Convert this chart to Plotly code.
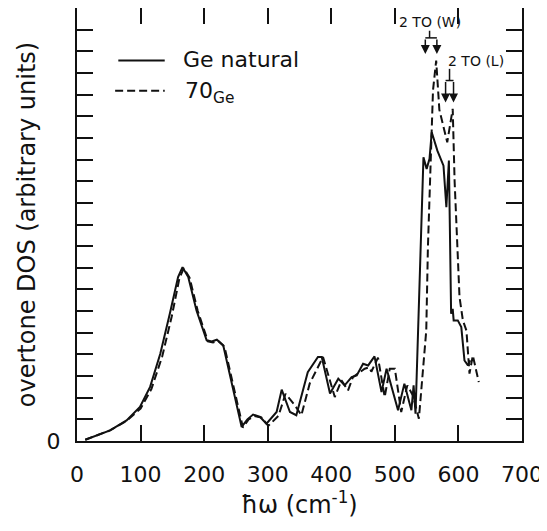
import plotly.graph_objects as go

# --- data ---
x_nat = [13, 30, 52, 78, 99, 115, 131, 146, 159, 166, 175, 188, 204, 212, 220, 230,
         259, 268, 277, 288, 298, 314, 322, 335, 345, 363, 379, 385, 398, 411,
         421, 432, 440, 450, 458, 468, 479, 487, 505, 515, 526, 529.5, 532.5,
         545, 550, 554.5, 558, 567, 576.5, 581, 585, 588.5, 591, 592.5, 599,
         604.5, 609.5, 615, 618.5]
y_nat = [0.06, 0.25, 0.49, 0.95, 1.57, 2.5, 4.03, 5.88, 7.57, 8.03, 7.57, 6.03, 4.65, 4.6, 4.68, 4.42,
         0.65, 1.0, 1.22, 1.11, 0.8, 1.34, 2.37, 1.34, 1.19, 3.18, 3.88, 3.88, 2.19, 2.88,
         2.57, 2.95, 3.03, 3.57, 3.49, 3.91, 2.26, 3.34, 1.42, 2.65, 1.42, 2.57, 1.26,
         13.1, 12.57, 13.03, 14.26, 13.4, 12.72, 10.8, 12.95, 5.88, 6.1, 5.57, 5.57,
         5.26, 3.72, 3.49, 3.72]

x_70 = [13, 30, 52, 78, 100, 117, 134, 149, 161, 168, 177, 190, 206, 214, 222, 232,
        261, 270, 279, 290, 301, 317, 328, 342.7, 353, 366, 387, 405.5, 416, 426.4,
        434, 452.6, 460, 463, 473.5, 484, 492, 500, 510, 519.6, 528.4, 537.8, 544,
        549.4, 552, 560, 565, 570, 582.4, 591, 594, 599, 601.7, 607, 612.6, 617.4,
        622.6, 632]
y_70 = [0.06, 0.25, 0.49, 0.93, 1.5, 2.4, 3.9, 5.75, 7.5, 7.98, 7.55, 6.0, 4.6, 4.55, 4.62, 4.35,
        0.62, 1.0, 1.15, 1.09, 0.7, 1.17, 2.18, 1.65, 1.19, 2.65, 3.88, 2.03, 2.8, 2.34,
        2.95, 3.34, 3.4, 3.2, 3.85, 2.03, 3.34, 3.34, 1.34, 2.57, 2.1, 1.03, 3.26,
        5.1, 8.95, 16.2, 17.57, 15.3, 13.8, 15.34, 12.0, 8.95, 6.65, 5.57, 5.1, 3.11,
        3.95, 2.72]

x_ticks = [0, 100, 200, 300, 400, 500, 600, 700]
y_ticks = list(range(0, 21))
y_ticktext = ["0"] + [""] * 20

series_names = ["Ge natural", "70<sub>Ge</sub>"]

FONT = "DejaVu Sans"
BLACK = "#111111"

fig = go.Figure()
fig.add_trace(go.Scatter(x=x_nat, y=y_nat, mode="lines", name=series_names[0],
                         line=dict(color=BLACK, width=2), showlegend=False))
fig.add_trace(go.Scatter(x=x_70, y=y_70, mode="lines", name=series_names[1],
                         line=dict(color=BLACK, width=2, dash="8px,4px"), showlegend=False))

shapes = []
annotations = []

# manual legend (line samples + labels)
shapes.append(dict(type="line", xref="x", yref="y", x0=65, x1=138, y0=17.57, y1=17.57,
                   line=dict(color=BLACK, width=2)))
shapes.append(dict(type="line", xref="x", yref="y", x0=60, x1=138, y0=16.18, y1=16.18,
                   line=dict(color=BLACK, width=2, dash="8px,4px")))
annotations.append(dict(x=164, y=17.6, xref="x", yref="y", text=series_names[0],
                        showarrow=False, xanchor="left", yanchor="middle",
                        font=dict(family=FONT, size=22, color=BLACK)))
annotations.append(dict(x=166, y=16.1, xref="x", yref="y", text=series_names[1],
                        showarrow=False, xanchor="left", yanchor="middle",
                        font=dict(family=FONT, size=22, color=BLACK)))

# peak labels with bracket arrows
annotations.append(dict(x=554.6, y=19.34, xref="x", yref="y", text="2 TO (W)",
                        showarrow=False, font=dict(family=FONT, size=14, color=BLACK)))
annotations.append(dict(x=628, y=17.53, xref="x", yref="y", text="2 TO (L)",
                        showarrow=False, font=dict(family=FONT, size=14, color=BLACK)))
for (sx, ys0, ys1, xa, xb, yb, yend) in [(554.6, 18.95, 18.62, 547.9, 566.1, 18.62, 17.88),
                                           (586.0, 17.19, 16.65, 579.8, 592.3, 16.65, 15.64)]:
    shapes.append(dict(type="line", xref="x", yref="y", x0=sx, x1=sx, y0=ys0, y1=ys1,
                       line=dict(color=BLACK, width=1.5)))
    shapes.append(dict(type="line", xref="x", yref="y", x0=xa, x1=xb, y0=yb, y1=yb,
                       line=dict(color=BLACK, width=1.5)))
    for xx in (xa, xb):
        annotations.append(dict(x=xx, y=yend, ax=xx, ay=yb, xref="x", yref="y",
                                axref="x", ayref="y", text="", showarrow=True,
                                arrowhead=2, arrowsize=1.2, arrowwidth=1.5,
                                arrowcolor=BLACK))

# figure sized to fit inside the page's default 8px body margin
fig.update_layout(
    width=539, height=515,
    margin=dict(l=69, r=25, t=0, b=82, autoexpand=False),
    paper_bgcolor="white", plot_bgcolor="white",
    font=dict(family=FONT, size=21, color=BLACK),
    shapes=shapes, annotations=annotations,
    showlegend=False,
)
fig.update_xaxes(range=[0, 700], tickvals=x_ticks, ticks="inside", ticklen=16,
                 tickwidth=2, tickcolor=BLACK, showline=True, linecolor=BLACK,
                 linewidth=2, mirror="ticks", showgrid=False, zeroline=False,
                 automargin=False, ticklabeloverflow="allow",
                 tickfont=dict(family=FONT, size=22, color=BLACK),
                 ticklabelstandoff=13,
                 title=dict(text="ħω (cm<sup>-1</sup>)", standoff=8,
                            font=dict(family=FONT, size=24, color=BLACK)))
fig.update_yaxes(range=[0, 20], tickvals=y_ticks, ticktext=y_ticktext, ticks="inside",
                 ticklen=16, tickwidth=2, tickcolor=BLACK, showline=True,
                 linecolor=BLACK, linewidth=2, mirror="ticks", showgrid=False,
                 zeroline=False, ticklabelstandoff=10, automargin=False,
                 tickfont=dict(family=FONT, size=22, color=BLACK),
                 title=dict(text="overtone DOS (arbitrary units)", standoff=4,
                            font=dict(family=FONT, size=24, color=BLACK)))

fig.write_html("out.html")
